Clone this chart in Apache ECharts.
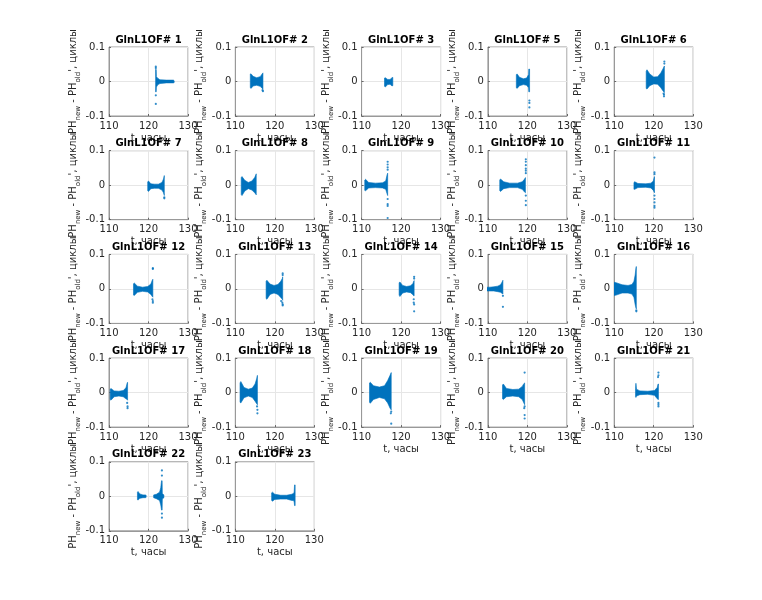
<!DOCTYPE html>
<html><head><meta charset="utf-8">
<script src="https://cdn.jsdelivr.net/npm/echarts@6/dist/echarts.min.js"></script>
<style>html,body{margin:0;padding:0;background:#fff}#c{width:762px;height:600px}</style>
</head><body><div id="c"></div>
<script>
// ---- data ----
const titles = ['GlnL1OF# 1','GlnL1OF# 2','GlnL1OF# 3','GlnL1OF# 5','GlnL1OF# 6',
  'GlnL1OF# 7','GlnL1OF# 8','GlnL1OF# 9','GlnL1OF# 10','GlnL1OF# 11',
  'GlnL1OF# 12','GlnL1OF# 13','GlnL1OF# 14','GlnL1OF# 15','GlnL1OF# 16',
  'GlnL1OF# 17','GlnL1OF# 18','GlnL1OF# 19','GlnL1OF# 20','GlnL1OF# 21',
  'GlnL1OF# 22','GlnL1OF# 23'];
const xTicks = [110, 120, 130];
const yTicks = [-0.1, 0, 0.1];
const xLabel = 't, часы';

// envelopes of the point clouds: [t, upper, lower]
const env01 = [[121.8,0.035,-0.03],[121.95,0.035,-0.03],[122.0,0.014,-0.016],[122.4,0.009,-0.009],[122.9,0.005,-0.006],[124.5,0.004,-0.004],[126.3,0.004,-0.004],[126.5,0.002,-0.003]];
const out01 = [[121.85,0.043],[121.85,0.039],[121.85,-0.04],[121.85,-0.065]];
const env02 = [[113.8,0.022,-0.018],[114.0,0.022,-0.02],[114.5,0.015,-0.013],[115.4,0.011,-0.011],[116.3,0.014,-0.014],[116.8,0.022,-0.02],[117.0,0.025,-0.022]];
const out02 = [[117.0,-0.028],[116.9,-0.025]];
const env03 = [[115.8,0.010,-0.014],[116.0,0.011,-0.016],[116.6,0.006,-0.009],[117.2,0.006,-0.008],[117.7,0.011,-0.013],[117.9,0.012,-0.012]];
const out03 = [];
const env05 = [[117.2,0.020,-0.018],[117.4,0.022,-0.020],[118.0,0.012,-0.012],[119.0,0.008,-0.009],[119.8,0.010,-0.011],[120.3,0.020,-0.018],[120.35,0.036,-0.03],[120.55,0.036,-0.03]];
const out05 = [[120.5,-0.055],[120.5,-0.062],[120.5,-0.075]];
const env06 = [[118.1,0.030,-0.020],[118.3,0.034,-0.022],[119.0,0.022,-0.012],[120.0,0.013,-0.007],[121.0,0.014,-0.008],[121.8,0.025,-0.018],[122.4,0.038,-0.028],[122.7,0.045,-0.032]];
const out06 = [[122.7,0.052],[122.7,0.058],[122.6,-0.038],[122.6,-0.043],[122.5,-0.035]];
const env07 = [[119.8,0.010,-0.016],[120.0,0.012,-0.018],[120.6,0.004,-0.010],[121.5,0.003,-0.009],[122.5,0.003,-0.009],[123.4,0.008,-0.014],[123.8,0.018,-0.022],[124.0,0.028,-0.030]];
const out07 = [[124.0,-0.035],[124.0,-0.038]];
const env08 = [[111.5,0.022,-0.027],[111.7,0.025,-0.030],[112.4,0.014,-0.017],[113.3,0.008,-0.010],[114.2,0.012,-0.014],[114.9,0.022,-0.022],[115.2,0.030,-0.026],[115.3,0.033,-0.028]];
const out08 = [];
const env09 = [[110.8,0.015,-0.015],[111.0,0.017,-0.016],[111.8,0.008,-0.008],[113.5,0.006,-0.007],[115.3,0.007,-0.008],[116.1,0.012,-0.012],[116.45,0.030,-0.025],[116.6,0.035,-0.03]];
const out09 = [[116.6,0.045],[116.6,0.052],[116.6,0.06],[116.6,0.068],[116.6,-0.04],[116.6,-0.055],[116.6,-0.06],[116.6,-0.095]];
const env10 = [[113.0,0.015,-0.016],[113.2,0.018,-0.018],[114.0,0.010,-0.010],[115.5,0.006,-0.007],[117.5,0.006,-0.007],[118.7,0.010,-0.012],[119.3,0.018,-0.020],[119.5,0.022,-0.022]];
const out10 = [[119.6,0.075],[119.6,0.068],[119.6,0.058],[119.6,0.048],[119.6,0.042],[119.6,0.035],[119.6,-0.03],[119.6,-0.045],[119.6,-0.058]];
const env11 = [[115.0,0.008,-0.012],[115.2,0.010,-0.012],[116.0,0.005,-0.007],[118.0,0.004,-0.006],[119.3,0.006,-0.008],[119.9,0.012,-0.015],[120.1,0.022,-0.020],[120.2,0.025,-0.022]];
const out11 = [[120.2,0.08],[120.2,0.037],[120.2,0.032],[120.2,-0.03],[120.2,-0.04],[120.2,-0.05],[120.2,-0.06],[120.2,-0.065]];
const env12 = [[116.2,0.015,-0.018],[116.4,0.017,-0.019],[117.2,0.008,-0.010],[118.5,0.005,-0.007],[119.8,0.007,-0.009],[120.6,0.014,-0.016],[120.95,0.025,-0.022],[121.1,0.028,-0.024]];
const out12 = [[121.1,0.058],[121.1,0.06],[121.1,-0.035],[121.1,-0.04],[121.0,-0.03]];
const env13 = [[117.8,0.022,-0.028],[118.0,0.025,-0.030],[118.8,0.014,-0.016],[119.8,0.010,-0.012],[120.8,0.013,-0.016],[121.5,0.022,-0.025],[121.9,0.030,-0.030],[122.0,0.035,-0.033]];
const out13 = [[122.0,0.04],[122.0,0.045],[121.9,-0.04],[122.0,-0.045],[122.0,-0.048],[121.6,-0.035]];
const env14 = [[119.5,0.018,-0.018],[119.7,0.020,-0.022],[120.4,0.010,-0.012],[121.4,0.007,-0.009],[122.4,0.009,-0.011],[123.0,0.016,-0.017],[123.2,0.022,-0.020],[123.3,0.024,-0.02]];
const out14 = [[123.3,0.03],[123.3,0.035],[123.2,-0.03],[123.2,-0.04],[123.3,-0.045],[123.3,-0.065]];
const env15 = [[109.6,0.005,-0.006],[110.5,0.005,-0.006],[111.5,0.006,-0.006],[112.5,0.008,-0.008],[113.2,0.012,-0.010],[113.6,0.020,-0.013],[113.8,0.025,-0.015]];
const out15 = [[113.8,-0.052],[113.8,-0.02]];
const env16 = [[109.6,0.020,-0.020],[110.5,0.018,-0.018],[112.0,0.012,-0.012],[113.5,0.010,-0.012],[114.5,0.013,-0.015],[115.0,0.022,-0.025],[115.3,0.040,-0.045],[115.5,0.060,-0.055],[115.6,0.065,-0.058]];
const out16 = [[115.6,-0.062],[115.6,-0.065]];
const env17 = [[110.3,0.010,-0.020],[110.5,0.012,-0.022],[111.3,0.005,-0.012],[112.5,0.004,-0.010],[113.6,0.006,-0.012],[114.3,0.014,-0.018],[114.6,0.028,-0.020],[114.7,0.030,-0.022]];
const out17 = [[114.7,-0.04],[114.7,-0.045],[114.6,-0.03]];
const env18 = [[111.2,0.028,-0.028],[111.4,0.032,-0.030],[112.2,0.015,-0.015],[113.3,0.010,-0.010],[114.3,0.013,-0.014],[115.0,0.025,-0.025],[115.4,0.040,-0.032],[115.6,0.050,-0.035]];
const out18 = [[115.6,-0.05],[115.6,-0.06],[115.5,-0.04]];
const env19 = [[112.0,0.028,-0.028],[112.2,0.030,-0.031],[113.0,0.020,-0.020],[114.5,0.016,-0.014],[115.8,0.020,-0.018],[116.6,0.035,-0.030],[117.2,0.050,-0.045],[117.5,0.058,-0.050]];
const out19 = [[117.5,-0.055],[117.4,-0.06],[117.5,-0.09]];
const env20 = [[113.7,0.022,-0.018],[113.9,0.025,-0.020],[114.7,0.012,-0.012],[116.3,0.009,-0.010],[117.8,0.010,-0.012],[118.7,0.018,-0.020],[119.1,0.026,-0.030],[119.3,0.028,-0.035]];
const out20 = [[119.3,0.058],[119.3,-0.04],[119.3,-0.065],[119.3,-0.075],[119.2,-0.045]];
const env21 = [[115.4,0.012,-0.012],[115.5,0.027,-0.014],[115.65,0.010,-0.010],[116.5,0.005,-0.006],[118.5,0.004,-0.005],[120.2,0.006,-0.008],[120.9,0.015,-0.018],[121.1,0.025,-0.020],[121.2,0.025,-0.02]];
const out21 = [[121.2,0.05],[121.2,0.058],[121.1,0.045],[121.2,-0.03],[121.2,-0.035],[121.2,-0.04]];
const env22a = [[117.2,0.012,-0.010],[117.35,0.014,-0.011],[117.8,0.007,-0.006],[118.6,0.004,-0.004],[119.2,0.004,-0.004],[119.4,0.003,-0.003]];
const env22b = [[121.3,0.004,-0.004],[122.0,0.006,-0.007],[122.8,0.012,-0.012],[123.1,0.025,-0.025],[123.3,0.045,-0.040],[123.45,0.045,-0.040],[123.5,0.008,-0.008],[123.9,0.004,-0.004]];
const out22 = [[123.4,0.075],[123.4,0.06],[123.4,-0.062],[123.4,-0.05]];
const env23 = [[119.2,0.010,-0.012],[119.4,0.012,-0.014],[120.0,0.006,-0.009],[121.5,0.003,-0.008],[123.0,0.003,-0.008],[124.3,0.006,-0.012],[124.7,0.008,-0.012],[124.9,0.012,-0.016],[125.0,0.033,-0.027],[125.15,0.033,-0.027]];
const out23 = [];

const envs = [[env01],[env02],[env03],[env05],[env06],[env07],[env08],[env09],[env10],[env11],
  [env12],[env13],[env14],[env15],[env16],[env17],[env18],[env19],[env20],[env21],[env22a,env22b],[env23]];
const outs = [out01,out02,out03,out05,out06,out07,out08,out09,out10,out11,
  out12,out13,out14,out15,out16,out17,out18,out19,out20,out21,out22,out23];

// ---- layout / style ----
const FONT = 'DejaVu Sans';
const BLUE = '#0072BD';
const TXT = '#262626';
const L0 = 109, T0 = 47, DX = 126.3, DY = 103.7, W = 79, H = 69;

const grid = [], xAxis = [], yAxis = [], series = [], title = [];
titles.forEach((t, i) => {
  const r = Math.floor(i / 5), c = i % 5;
  const left = L0 + DX * c, top = T0 + DY * r;
  grid.push({left, top, width: W, height: H, show: true, borderColor: '#999', borderWidth: 1, backgroundColor: '#fff'});
  title.push({text: t, left: left + W / 2, top: top - 12, textAlign: 'center', padding: 0,
    textStyle: {fontFamily: FONT, fontSize: 10, fontWeight: 'bold', color: '#000'}});
  xAxis.push({gridIndex: i, type: 'value', min: xTicks[0], max: xTicks[2], interval: xTicks[1] - xTicks[0],
    axisLine: {show: true, onZero: false, lineStyle: {color: '#999', width: 1}},
    axisTick: {show: true, inside: true, length: 2, lineStyle: {color: '#666'}},
    axisLabel: {fontFamily: FONT, fontSize: 10, color: TXT, margin: 5},
    splitLine: {show: true, lineStyle: {color: '#e6e6e6', width: 1}},
    name: xLabel, nameLocation: 'middle', nameGap: 17,
    nameTextStyle: {fontFamily: FONT, fontSize: 10, color: TXT}});
  yAxis.push({gridIndex: i, type: 'value', min: yTicks[0], max: yTicks[2], interval: yTicks[2] - yTicks[1],
    axisLine: {show: true, onZero: false, lineStyle: {color: '#999', width: 1}},
    axisTick: {show: true, inside: true, length: 2, lineStyle: {color: '#666'}},
    axisLabel: {fontFamily: FONT, fontSize: 10, color: TXT, margin: 4,
      formatter: v => (Math.abs(v) < 1e-9 ? '0' : String(+v.toFixed(1)))},
    splitLine: {show: true, lineStyle: {color: '#e6e6e6', width: 1}},
    name: "{m|PH}{s|new}{m| - PH}{s|old}{m|', циклы}", nameLocation: 'middle', nameGap: 24, nameRotate: 90,
    nameTextStyle: {fontFamily: FONT, color: TXT, rich: {
      m: {fontFamily: FONT, fontSize: 10, lineHeight: 16, color: TXT},
      s: {fontFamily: FONT, fontSize: 7, lineHeight: 8, verticalAlign: 'bottom', color: TXT}}}});
  envs[i].forEach(env => {
    series.push({type: 'custom', xAxisIndex: i, yAxisIndex: i, clip: true, silent: true,
      data: env, encode: {x: 0, y: [1, 2]},
      renderItem: (params, api) => {
        if (params.dataIndex !== 0) return null;
        const upper = env.map(d => api.coord([d[0], d[1]]));
        const lower = env.slice().reverse().map(d => api.coord([d[0], d[2]]));
        return {type: 'polygon', shape: {points: upper.concat(lower)},
          style: {fill: BLUE, stroke: BLUE, lineWidth: 0.6}};
      }});
  });
  series.push({type: 'scatter', xAxisIndex: i, yAxisIndex: i, data: outs[i], symbol: 'circle', symbolSize: 2.2,
    itemStyle: {color: BLUE}, silent: true, clip: true});
});

const chart = echarts.init(document.getElementById('c'), null, {renderer: 'canvas'});
chart.setOption({animation: false, backgroundColor: '#fff', title, grid, xAxis, yAxis, series});
</script></body></html>
